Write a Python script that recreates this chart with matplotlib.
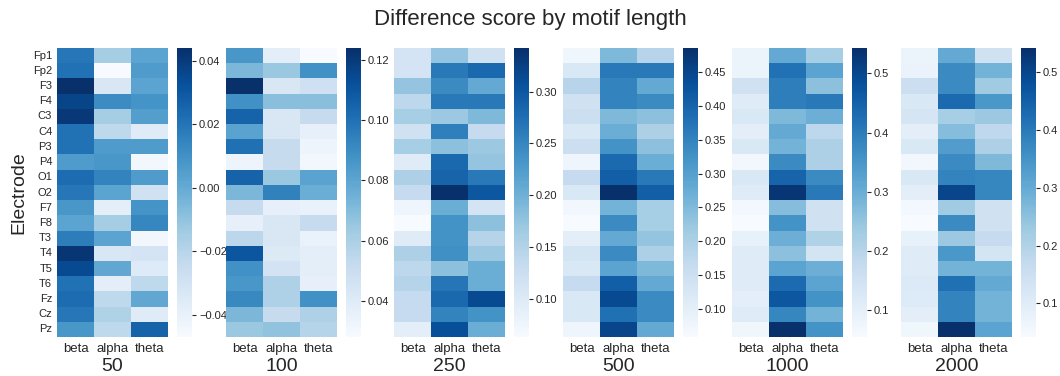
import numpy as np
import pandas as pd
import seaborn as sns
from matplotlib import pyplot as plt

sns.set_style('white')
plt.rcParams['font.family'] = ['Liberation Sans', 'DejaVu Sans']
plt.rcParams['text.color'] = '#262626'
plt.rcParams['axes.labelcolor'] = '#262626'
plt.rcParams['xtick.color'] = '#262626'
plt.rcParams['ytick.color'] = '#262626'

electrodes = ['Fp1', 'Fp2', 'F3', 'F4', 'C3', 'C4', 'P3', 'P4', 'O1', 'O2',
              'F7', 'F8', 'T3', 'T4', 'T5', 'T6', 'Fz', 'Cz', 'Pz']
bands = ['beta', 'alpha', 'theta']
lengths = [50, 100, 250, 500, 1000, 2000]

beta50 = [0.019, 0.021, 0.044, 0.037, 0.041, 0.021, 0.021, 0.006, 0.023, 0.019,
          0.008, 0.003, 0.017, 0.042, 0.035, 0.021, 0.023, 0.019, 0.008]
alpha50 = [-0.015, -0.047, -0.033, 0.012, -0.015, -0.022, 0.006, 0.008, 0.015, 0.003,
           -0.038, -0.015, 0.003, -0.033, 0.001, -0.038, -0.022, -0.018, -0.022]
theta50 = [0.003, 0.006, 0.003, 0.009, 0.005, -0.036, 0.006, -0.044, 0.006, -0.029,
           0.009, 0.014, -0.044, -0.031, -0.035, -0.022, 0.001, -0.036, 0.026]

beta100 = [0.086, 0.072, 0.124, 0.088, 0.105, 0.081, 0.100, 0.033, 0.105, 0.072,
           0.052, 0.036, 0.055, 0.110, 0.088, 0.086, 0.091, 0.072, 0.065]
alpha100 = [0.038, 0.065, 0.043, 0.069, 0.043, 0.043, 0.052, 0.052, 0.065, 0.094,
            0.036, 0.043, 0.043, 0.041, 0.046, 0.059, 0.059, 0.052, 0.067]
theta100 = [0.028, 0.088, 0.048, 0.069, 0.052, 0.036, 0.033, 0.031, 0.081, 0.076,
            0.035, 0.052, 0.035, 0.038, 0.038, 0.036, 0.088, 0.059, 0.057]

beta250 = [0.113, 0.113, 0.175, 0.141, 0.161, 0.119, 0.161, 0.096, 0.155, 0.133,
           0.077, 0.063, 0.096, 0.155, 0.141, 0.147, 0.133, 0.133, 0.091]
alpha250 = [0.175, 0.264, 0.244, 0.264, 0.169, 0.258, 0.180, 0.281, 0.286, 0.342,
            0.203, 0.236, 0.236, 0.239, 0.180, 0.267, 0.281, 0.253, 0.309]
theta250 = [0.119, 0.281, 0.208, 0.264, 0.189, 0.133, 0.169, 0.175, 0.264, 0.300,
            0.113, 0.180, 0.147, 0.169, 0.203, 0.203, 0.314, 0.236, 0.203]

beta500 = [0.075, 0.122, 0.186, 0.144, 0.152, 0.122, 0.152, 0.079, 0.165, 0.122,
           0.071, 0.058, 0.101, 0.135, 0.122, 0.165, 0.122, 0.122, 0.079]
alpha500 = [0.251, 0.366, 0.349, 0.349, 0.251, 0.272, 0.323, 0.392, 0.409, 0.486,
            0.263, 0.336, 0.281, 0.336, 0.293, 0.409, 0.443, 0.379, 0.452]
theta500 = [0.186, 0.366, 0.281, 0.336, 0.238, 0.199, 0.238, 0.272, 0.366, 0.409,
            0.208, 0.208, 0.229, 0.199, 0.251, 0.281, 0.336, 0.336, 0.281]

beta1000 = [0.084, 0.084, 0.153, 0.114, 0.128, 0.104, 0.128, 0.070, 0.128, 0.114,
            0.065, 0.055, 0.094, 0.114, 0.114, 0.114, 0.104, 0.114, 0.075]
alpha1000 = [0.309, 0.421, 0.397, 0.397, 0.275, 0.309, 0.289, 0.372, 0.445, 0.530,
             0.265, 0.358, 0.299, 0.260, 0.323, 0.431, 0.470, 0.382, 0.543]
theta1000 = [0.226, 0.323, 0.260, 0.406, 0.299, 0.192, 0.216, 0.216, 0.372, 0.406,
             0.153, 0.153, 0.211, 0.143, 0.299, 0.323, 0.358, 0.289, 0.358]

beta2000 = [0.072, 0.077, 0.152, 0.117, 0.127, 0.092, 0.117, 0.057, 0.117, 0.092,
            0.052, 0.042, 0.082, 0.102, 0.102, 0.112, 0.107, 0.092, 0.062]
alpha2000 = [0.302, 0.367, 0.367, 0.432, 0.217, 0.257, 0.332, 0.367, 0.382, 0.502,
             0.227, 0.367, 0.232, 0.342, 0.282, 0.417, 0.382, 0.382, 0.542]
theta2000 = [0.142, 0.282, 0.227, 0.342, 0.232, 0.177, 0.207, 0.267, 0.377, 0.377,
             0.142, 0.142, 0.167, 0.132, 0.282, 0.302, 0.282, 0.282, 0.317]

scores = {
    50: (beta50, alpha50, theta50),
    100: (beta100, alpha100, theta100),
    250: (beta250, alpha250, theta250),
    500: (beta500, alpha500, theta500),
    1000: (beta1000, alpha1000, theta1000),
    2000: (beta2000, alpha2000, theta2000),
}

W, H = 1060, 376
fig = plt.figure(figsize=(W / 100, H / 100), dpi=100)

# one heatmap + its own colorbar per motif length, placed in pixels
heat_left = [57, 226, 394, 563, 732, 901]
heat_w = 111
top, bottom = 48, 337

for i, n in enumerate(lengths):
    df = pd.DataFrame(dict(zip(bands, scores[n])), index=electrodes)
    x0 = heat_left[i]
    ax = fig.add_axes([x0 / W, (H - bottom) / H, heat_w / W, (bottom - top) / H])
    cax = fig.add_axes([(x0 + 120) / W, (H - bottom) / H, 15 / W, (bottom - top) / H])
    sns.heatmap(df, cmap='Blues', ax=ax, cbar_ax=cax)
    ax.tick_params(length=0, labelsize=9.5, pad=4.5)
    ax.tick_params(axis='y', labelsize=8, rotation=0, pad=3.5)
    cax.tick_params(length=3, width=0.8, labelsize=8, pad=2)
    ax.set_xlabel(str(n), fontsize=14, labelpad=2)
    if i == 0:
        ax.set_ylabel('Electrode', fontsize=14)
    else:
        ax.set_yticks([])

fig.suptitle('Difference score by motif length', fontsize=16, y=0.975)
plt.savefig('out.png', dpi=100)
